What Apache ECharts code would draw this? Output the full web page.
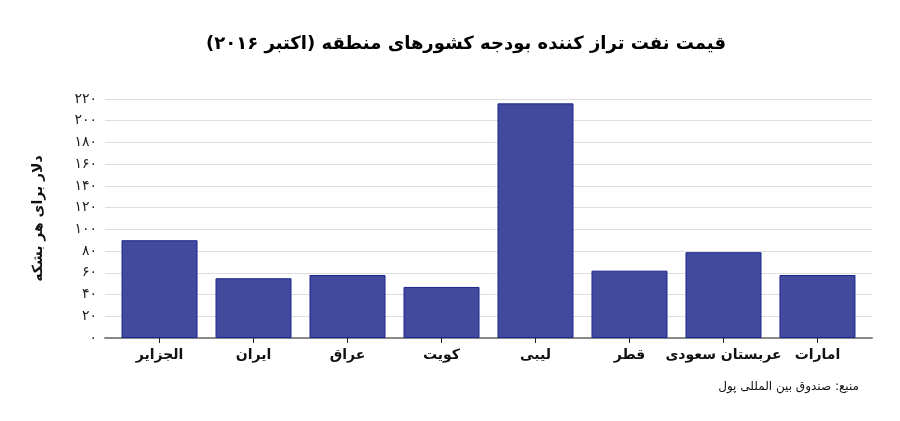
<!DOCTYPE html>
<html lang="fa">
<head>
    <meta charset="UTF-8">
    <title>قیمت نفت تراز کننده بودجه</title>
    <script src="https://cdn.jsdelivr.net/npm/echarts@6.0.0/dist/echarts.min.js"></script>
    <style>
        html, body { margin: 0; padding: 0; background: #fff; }
        #container { width: 900px; height: 421px; }
    </style>
</head>
<body>
    <div id="container" dir="rtl"></div>
    <script type="text/javascript">
        // داده ها
        var countries = ['الجزایر', 'ایران', 'عراق', 'کویت', 'لیبی', 'قطر', 'عربستان سعودی', 'امارات'];
        var prices = [90, 55, 58, 47, 216, 62, 79, 58];
        var yTickLabels = ['۰', '۲۰', '۴۰', '۶۰', '۸۰', '۱۰۰', '۱۲۰', '۱۴۰', '۱۶۰', '۱۸۰', '۲۰۰', '۲۲۰'];
        var titleText = 'قیمت نفت تراز کننده بودجه کشورهای منطقه (اکتبر ۲۰۱۶)';
        var yName = 'دلار برای هر بشکه';
        var sourceText = 'منبع: صندوق بین المللی پول';

        var font = 'DejaVu Sans';
        var positions = countries.map(function (c, i) { return i; });
        var barData = prices.map(function (p, i) { return [i, p]; });

        var dom = document.getElementById('container');
        var myChart = echarts.init(dom);

        var option = {
            animation: false,
            title: [{
                text: titleText,
                left: 461, top: 30,
                textAlign: 'center',
                textStyle: { fontFamily: font, fontSize: 18, fontWeight: 'bold', color: '#000' }
            }, {
                text: sourceText,
                right: 36, top: 376,
                textStyle: { fontFamily: font, fontSize: 12, fontWeight: 'normal', color: '#111' }
            }],
            grid: { left: 105, right: 28, top: 99, bottom: 83 },
            xAxis: {
                type: 'value',
                min: -0.58, max: 7.58,
                splitLine: { show: false },
                axisLine: { show: true, lineStyle: { color: '#888', width: 2 } },
                axisTick: { show: true, customValues: positions, length: 5, lineStyle: { color: '#222' } },
                axisLabel: {
                    customValues: positions,
                    fontFamily: font, fontSize: 14, fontWeight: 'bold', color: '#111', margin: 10,
                    formatter: function (v) { return countries[Math.round(v)]; }
                }
            },
            yAxis: {
                type: 'value',
                min: 0, max: 220, interval: 20,
                name: yName,
                nameLocation: 'middle',
                nameRotate: 90,
                nameGap: 60,
                nameTextStyle: { fontFamily: font, fontSize: 14, fontWeight: 'bold', color: '#111' },
                axisLine: { show: false },
                axisTick: { show: false },
                axisLabel: {
                    fontFamily: font, fontSize: 14, color: '#222', margin: 8,
                    formatter: function (v) { return yTickLabels[Math.round(v / 20)]; }
                },
                splitLine: { lineStyle: { color: '#dedede', width: 1 } }
            },
            series: [{
                type: 'bar',
                data: barData,
                barWidth: 76,
                itemStyle: { color: '#424a9e', borderColor: '#1c2590', borderWidth: 1 }
            }]
        };

        myChart.setOption(option);
    </script>
</body>
</html>
